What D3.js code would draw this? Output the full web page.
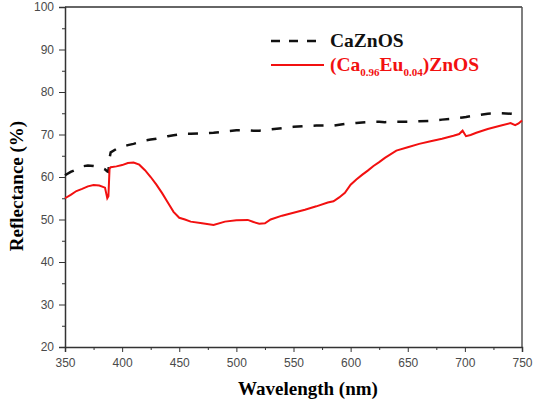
<!DOCTYPE html>
<html>
<head>
<meta charset="utf-8">
<script src="https://cdn.jsdelivr.net/npm/d3@7"></script>
<style>
  body { margin: 0; background: #fff; }
  svg { display: block; }
  .tick text { font-family: Arial, "Liberation Sans", sans-serif; font-size: 12px; fill: #4a4a4a; }
  .axis path, .axis line { stroke: #333; }
</style>
</head>
<body>
<div id="chart"></div>
<script>
// wavelength (nm)
const wavelength = [350, 355, 360, 365, 370, 375, 380, 385, 387, 388, 389, 390, 395, 400, 405, 410, 415, 420, 425, 430,
  435, 440, 445, 450, 455, 460, 470, 480, 490, 500, 510, 515, 520, 525, 530, 540, 550, 560, 570, 580,
  585, 590, 595, 600, 605, 610, 615, 620, 625, 630, 640, 650, 660, 670, 680, 690, 695, 698, 701, 705,
  710, 720, 730, 740, 744, 747, 750];

// CaZnOS (black dashed)
const hostValues = [60.4, 61.2, 61.8, 62.5, 62.7, 62.6, 62.4, 61.8, 61.3, 61.2, 64.5, 65.8, 66.6, 67.1, 67.5, 67.8, 68.2, 68.6, 68.8, 69.0,
  69.3, 69.6, 69.8, 70.0, 70.2, 70.2, 70.3, 70.4, 70.7, 71.0, 71.0, 70.9, 70.9, 71.0, 71.2, 71.5, 71.8, 72.0, 72.1, 72.1,
  72.1, 72.3, 72.5, 72.6, 72.7, 72.8, 72.9, 73.0, 73.0, 72.9, 73.0, 73.0, 73.1, 73.2, 73.5, 73.7, 73.9, 74.0, 74.1, 74.3,
  74.5, 74.9, 75.0, 74.9, 75.0, 75.0, 75.0];

// (Ca0.96Eu0.04)ZnOS (red)
const dopedValues = [55.0, 55.8, 56.7, 57.2, 57.8, 58.1, 58.0, 57.5, 55.0, 55.5, 62.0, 62.3, 62.5, 62.8, 63.3, 63.4, 62.9, 61.6, 60.0, 58.2,
  56.2, 54.0, 51.8, 50.4, 50.0, 49.5, 49.1, 48.7, 49.5, 49.8, 49.9, 49.4, 49.0, 49.1, 50.0, 50.9, 51.6, 52.3, 53.1, 54.0,
  54.3, 55.2, 56.3, 58.2, 59.4, 60.5, 61.5, 62.6, 63.5, 64.5, 66.2, 67.0, 67.8, 68.4, 69.0, 69.7, 70.1, 70.9, 69.6, 69.9,
  70.4, 71.3, 72.0, 72.7, 72.2, 72.6, 73.3];

const xTicks = [350, 400, 450, 500, 550, 600, 650, 700, 750];
const xMinor = [375, 425, 475, 525, 575, 625, 675, 725];
const yTicks = [20, 30, 40, 50, 60, 70, 80, 90, 100];
const yMinor = [25, 35, 45, 55, 65, 75, 85, 95];

const width = 540, height = 404;
const margin = { top: 7, right: 18, bottom: 57, left: 65 };

const svg = d3.select("#chart").append("svg")
  .attr("width", width)
  .attr("height", height);

const x = d3.scaleLinear().domain([350, 750]).range([margin.left, width - margin.right]);
const y = d3.scaleLinear().domain([20, 100]).range([height - margin.bottom, margin.top]);

// frame (top and right)
svg.append("line")
  .attr("x1", x(350)).attr("x2", x(750)).attr("y1", y(100)).attr("y2", y(100))
  .attr("stroke", "#333").attr("stroke-width", 1.5);
svg.append("line")
  .attr("x1", x(750)).attr("x2", x(750)).attr("y1", y(100)).attr("y2", y(20))
  .attr("stroke", "#555").attr("stroke-width", 1.5);

// x axis
svg.append("g")
  .attr("class", "axis")
  .attr("transform", "translate(0," + y(20) + ")")
  .call(d3.axisBottom(x).tickValues(xTicks).tickSize(5).tickPadding(6).tickFormat(d3.format("d")))
  .call(g => g.select(".domain").attr("stroke-width", 1.5));
svg.append("g")
  .attr("class", "axis")
  .attr("transform", "translate(0," + y(20) + ")")
  .call(d3.axisBottom(x).tickValues(xMinor).tickSize(3).tickFormat(""))
  .call(g => g.select(".domain").remove());

// y axis
svg.append("g")
  .attr("class", "axis")
  .attr("transform", "translate(" + x(350) + ",0)")
  .call(d3.axisLeft(y).tickValues(yTicks).tickSize(6).tickPadding(5).tickFormat(d3.format("d")))
  .call(g => g.select(".domain").attr("stroke-width", 1.5));
svg.append("g")
  .attr("class", "axis")
  .attr("transform", "translate(" + x(350) + ",0)")
  .call(d3.axisLeft(y).tickValues(yMinor).tickSize(3).tickFormat(""))
  .call(g => g.select(".domain").remove());

// lines
const line = vals => d3.line()
  .x((d, i) => x(wavelength[i]))
  .y(d => y(d))(vals);

svg.append("path")
  .attr("d", line(hostValues))
  .attr("fill", "none")
  .attr("stroke", "#111")
  .attr("stroke-width", 2.5)
  .attr("stroke-dasharray", "10,11");

svg.append("path")
  .attr("d", line(dopedValues))
  .attr("fill", "none")
  .attr("stroke", "#f21010")
  .attr("stroke-width", 2);

// axis titles
svg.append("text")
  .attr("x", 308).attr("y", 395)
  .attr("text-anchor", "middle")
  .style("font-family", "'Liberation Serif', 'Times New Roman', serif")
  .style("font-weight", "bold")
  .style("font-size", "19px")
  .text("Wavelength (nm)");

svg.append("text")
  .attr("transform", "translate(23," + 186 + ") rotate(-90)")
  .attr("text-anchor", "middle")
  .style("font-family", "'Liberation Serif', 'Times New Roman', serif")
  .style("font-weight", "bold")
  .style("font-size", "19px")
  .text("Reflectance (%)");

// legend
const legend = svg.append("g")
  .style("font-family", "'Liberation Serif', 'Times New Roman', serif")
  .style("font-weight", "bold")
  .style("font-size", "19.5px");

legend.append("line")
  .attr("x1", 271).attr("x2", 324).attr("y1", 41).attr("y2", 41)
  .attr("stroke", "#111").attr("stroke-width", 2.5)
  .attr("stroke-dasharray", "9,9");
legend.append("text")
  .attr("x", 330).attr("y", 47)
  .attr("fill", "#111")
  .text("CaZnOS");

legend.append("line")
  .attr("x1", 271).attr("x2", 324).attr("y1", 65).attr("y2", 65)
  .attr("stroke", "#f21010").attr("stroke-width", 2);
const t2 = legend.append("text")
  .attr("x", 330).attr("y", 71)
  .attr("fill", "#f21010");
t2.append("tspan").text("(Ca");
t2.append("tspan").attr("dy", 5).style("font-size", "11px").text("0.96");
t2.append("tspan").attr("dy", -5).text("Eu");
t2.append("tspan").attr("dy", 5).style("font-size", "11px").text("0.04");
t2.append("tspan").attr("dy", -5).text(")ZnOS");
</script>
</body>
</html>
